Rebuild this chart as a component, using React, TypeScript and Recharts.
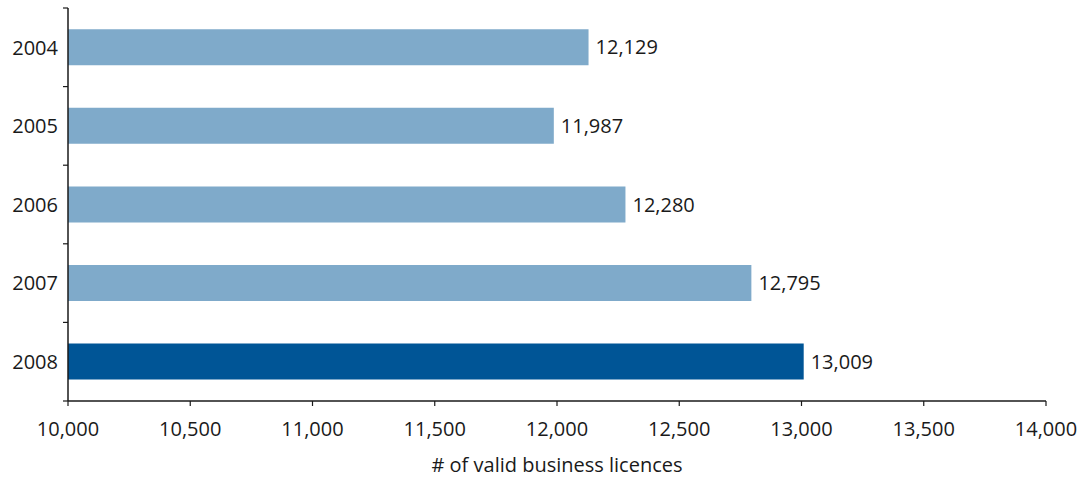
import { BarChart, Bar, XAxis, YAxis, Cell, LabelList, Label } from "recharts";

const years = ["2004", "2005", "2006", "2007", "2008"];
const licences = [12129, 11987, 12280, 12795, 13009];
const barColors = ["#7faaca", "#7faaca", "#7faaca", "#7faaca", "#005596"];
const xTicks = [10000, 10500, 11000, 11500, 12000, 12500, 13000, 13500, 14000];

const data = years.map((year, i) => ({ year, value: licences[i] }));

const fmt = (v: number) => v.toLocaleString("en-US");
const font = "'Open Sans', 'Noto Sans', sans-serif";
const ink = "#1a1a1a";
const fontSize = 20;

// year label plus the small tick marks that sit on the band edges
const YearTick = (props: any) => {
  const { x, y, payload, index, height } = props;
  const half =
    payload && payload.offset ? payload.offset : Number(height) / years.length / 2;
  const axisX = x + 10;
  return (
    <g>
      <text
        x={x}
        y={y}
        dy="0.36em"
        textAnchor="end"
        fill={ink}
        fontSize={fontSize}
        fontFamily={font}
      >
        {payload.value}
      </text>
      <line x1={axisX - 5} x2={axisX} y1={y - half} y2={y - half} stroke={ink} strokeWidth={1.2} />
      {index === years.length - 1 && (
        <line x1={axisX - 5} x2={axisX} y1={y + half} y2={y + half} stroke={ink} strokeWidth={1.2} />
      )}
    </g>
  );
};

export default function App() {
  return (
    <div style={{ position: "absolute", left: 0, top: 0, fontFamily: font }}>
      <BarChart
        width={1088}
        height={480}
        data={data}
        layout="vertical"
        barCategoryGap="27%"
        margin={{ top: 8, right: 42, left: 0, bottom: 10 }}
      >
        <YAxis
          type="category"
          dataKey="year"
          width={68}
          axisLine={{ stroke: ink, strokeWidth: 1.5 }}
          tickLine={false}
          tickSize={6}
          tickMargin={4}
          tick={<YearTick />}
        />
        <XAxis
          type="number"
          domain={[10000, 14000]}
          ticks={xTicks}
          allowDataOverflow
          height={69}
          tickSize={5}
          tickMargin={16}
          tickFormatter={fmt}
          axisLine={{ stroke: ink, strokeWidth: 1.5 }}
          tickLine={{ stroke: ink, strokeWidth: 1.2 }}
          tick={{ fill: ink, fontSize, fontFamily: font }}
        >
          <Label
            value="# of valid business licences"
            position="insideBottom"
            offset={-2}
            style={{ fill: ink, fontSize, fontFamily: font }}
          />
        </XAxis>
        <Bar dataKey="value" isAnimationActive={false}>
          {data.map((d, i) => (
            <Cell key={d.year} fill={barColors[i]} />
          ))}
          <LabelList
            dataKey="value"
            position="right"
            offset={7}
            formatter={(v: any) => fmt(Number(v))}
            style={{ fill: ink, fontSize, fontFamily: font }}
          />
        </Bar>
      </BarChart>
    </div>
  );
}
